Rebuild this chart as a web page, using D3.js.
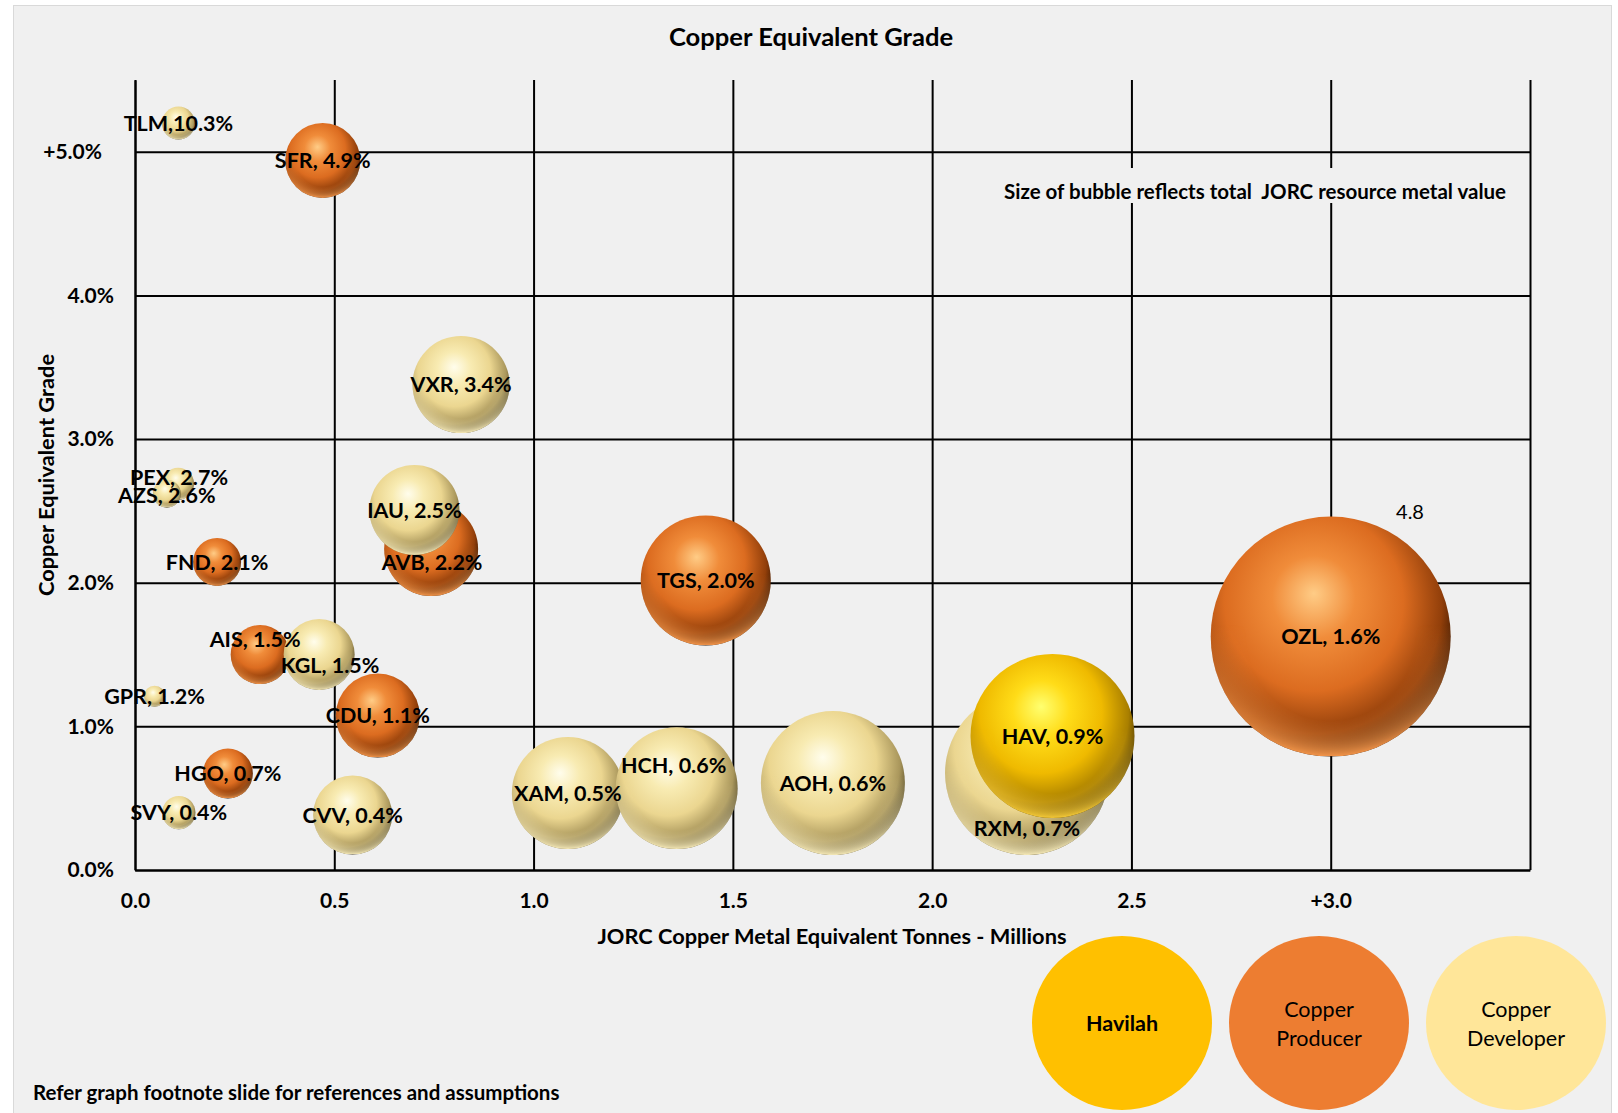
<!DOCTYPE html>
<html lang="en">
<head>
<meta charset="UTF-8">
<title>Copper Equivalent Grade</title>
<script src="https://d3js.org/d3.v7.min.js"></script>
<style>
  body { margin: 0; background: #fff; }
  svg text { font-family: Lato, "Noto Sans", sans-serif; fill: #000; }
  .tick text { font-size: 21px; font-weight: bold; }
</style>
</head>
<body>
<svg id="chart"></svg>
<script>
    // one entry per company
    var codes  = ["SFR","AVB","FND","TGS","AIS","CDU","HGO","OZL",
                  "TLM","PEX","AZS","GPR","SVY","VXR","IAU","KGL","CVV","XAM","HCH","AOH","RXM",
                  "HAV"];
    var groups = ["Producer","Producer","Producer","Producer","Producer","Producer","Producer","Producer",
                  "Developer","Developer","Developer","Developer","Developer","Developer","Developer",
                  "Developer","Developer","Developer","Developer","Developer","Developer",
                  "Havilah"];
    // JORC copper metal equivalent tonnes (millions), 3.0 = "+3.0"
    var tonnes = [0.471, 0.743, 0.206, 1.432, 0.314, 0.609, 0.233, 3.0,
                  0.109, 0.108, 0.080, 0.049, 0.110, 0.818, 0.701, 0.462, 0.546, 1.086, 1.359, 1.751, 2.238,
                  2.302];
    // plotted grade (%), TLM capped near the top
    var grades = [4.94, 2.235, 2.145, 2.016, 1.50, 1.075, 0.672, 1.625,
                  5.20, 2.69, 2.62, 1.21, 0.40, 3.38, 2.507, 1.50, 0.383, 0.536, 0.57, 0.605, 0.675,
                  0.933];
    // grade shown in the label
    var gradeLabels = [4.9, 2.2, 2.1, 2.0, 1.5, 1.1, 0.7, 1.6,
                       10.3, 2.7, 2.6, 1.2, 0.4, 3.4, 2.5, 1.5, 0.4, 0.5, 0.6, 0.6, 0.7,
                       0.9];
    // total JORC resource metal value (bubble size)
    var metalValue = [0.469, 0.736, 0.192, 1.41, 0.29, 0.588, 0.208, 4.8,
                      0.091, 0.085, 0.065, 0.037, 0.092, 0.787, 0.675, 0.42, 0.52, 1.045, 1.24, 1.728, 2.24,
                      2.24];

    var xTicks = [0, 0.5, 1, 1.5, 2, 2.5, 3, 3.5];
    var xTickLabels = ["0.0", "0.5", "1.0", "1.5", "2.0", "2.5", "+3.0", ""];
    var yTicks = [0, 1, 2, 3, 4, 5];
    var yTickLabels = ["0.0%", "1.0%", "2.0%", "3.0%", "4.0%", "+5.0%"];

    var legendKeys  = ["Havilah", "Producer", "Developer"];
    var legendLines = [["Havilah"], ["Copper", "Producer"], ["Copper", "Developer"]];

    var W = 1618, H = 1113;
    var plotL = 135, plotR = 1530, plotT = 80, plotB = 870;

    var flatColor = {Havilah: "#FFC000", Producer: "#ED7D31", Developer: "#FFE699"};
    var shade = {
        Producer:  ["#ffcc86", "#f08c3a", "#dc6c20", "#923f0a", "#2e1200", "#ff9d4e"],
        Developer: ["#fffdec", "#f8ebb2", "#ebd690", "#aa975c", "#4a4020", "#fff2bf"],
        Havilah:   ["#ffff70", "#ffdc18", "#efba00", "#a97f00", "#3e2c00", "#ffd23a"]
    };

    var svg = d3.select("#chart").attr("width", W).attr("height", H);
    var defs = svg.append("defs");

    Object.keys(shade).forEach(function(k) {
        var c = shade[k];
        var g = defs.append("radialGradient").attr("id", "grad-" + k)
            .attr("cx", 0.43).attr("cy", 0.38).attr("r", 0.62)
            .attr("fx", 0.43).attr("fy", 0.32);
        [[0, c[0]], [0.28, c[1]], [0.6, c[2]], [0.86, c[3]], [1, c[4]]].forEach(function(s) {
            g.append("stop").attr("offset", s[0]).attr("stop-color", s[1]);
        });
        var r = defs.append("linearGradient").attr("id", "rim-" + k)
            .attr("x1", 0).attr("y1", 0).attr("x2", 0).attr("y2", 1);
        r.append("stop").attr("offset", 0.45).attr("stop-color", c[5]).attr("stop-opacity", 0);
        r.append("stop").attr("offset", 1).attr("stop-color", c[5]).attr("stop-opacity", 0.95);
    });

    var ring = defs.append("radialGradient").attr("id", "ringGrad")
        .attr("cx", 0.5).attr("cy", 0.5).attr("r", 0.5);
    ring.append("stop").attr("offset", 0.7).attr("stop-color", "#000");
    ring.append("stop").attr("offset", 1).attr("stop-color", "#fff");
    defs.append("mask").attr("id", "rimMask")
        .attr("maskUnits", "objectBoundingBox").attr("maskContentUnits", "objectBoundingBox")
        .attr("x", 0).attr("y", 0).attr("width", 1).attr("height", 1)
        .append("rect").attr("width", 1).attr("height", 1).attr("fill", "url(#ringGrad)");

    // panel
    svg.append("rect").attr("x", 13.5).attr("y", 5.5).attr("width", 1598).attr("height", 1120)
        .attr("fill", "#f0f0f0").attr("stroke", "#d9d9d9");

    var x = d3.scaleLinear().domain([0, 3.5]).range([plotL, plotR]);
    var y = d3.scaleLinear().domain([0, 5.5]).range([plotB, plotT]);
    var size = d3.scaleSqrt().domain([0, 4.8]).range([0, 120]);

    var xAxis = svg.append("g").attr("transform", "translate(0," + plotB + ")")
        .call(d3.axisBottom(x).tickValues(xTicks).tickSizeInner(-(plotB - plotT)).tickSizeOuter(0)
            .tickPadding(23).tickFormat(function(d, i) { return xTickLabels[i]; }));
    var yAxis = svg.append("g").attr("transform", "translate(" + plotL + ",0)")
        .call(d3.axisLeft(y).tickValues(yTicks).tickSizeInner(-(plotR - plotL)).tickSizeOuter(0)
            .tickPadding(21).tickFormat(function(d, i) { return yTickLabels[i]; }));
    [xAxis, yAxis].forEach(function(a) {
        a.attr("font-family", null).attr("font-size", null);
        a.selectAll("line").attr("stroke", "#000").attr("stroke-width", 2);
        a.select(".domain").attr("stroke", "#000").attr("stroke-width", 2);
    });
    yAxis.selectAll(".tick text").attr("dx", function(d) { return d === 5 ? -12 : 0; });

    // note box sits over the gridlines
    svg.append("rect").attr("x", 996).attr("y", 168).attr("width", 520).attr("height", 35)
        .attr("fill", "#f0f0f0");
    svg.append("text").attr("x", 1506).attr("y", 192).attr("dy", "0.36em")
        .attr("text-anchor", "end").attr("font-size", 20.5).attr("font-weight", "bold")
        .attr("xml:space", "preserve")
        .text("Size of bubble reflects total  JORC resource metal value");

    var rows = codes.map(function(c, i) {
        return {code: c, group: groups[i], t: tonnes[i], g: grades[i], lab: gradeLabels[i], v: metalValue[i]};
    });

    // nudges for labels that were moved off centre in the original
    var nudge = {AVB: [1, 13], AIS: [-5, -15], KGL: [11, 11], HCH: [-3, -23], RXM: [0, 55], PEX: [1, -6], AZS: [0, 2]};

    var bub = svg.append("g").selectAll("g").data(rows).enter().append("g")
        .attr("transform", function(d) { return "translate(" + x(d.t) + "," + y(d.g) + ")"; });
    bub.append("circle").attr("r", function(d) { return size(d.v); })
        .attr("fill", function(d) { return "url(#grad-" + d.group + ")"; });
    bub.append("circle").attr("r", function(d) { return size(d.v); })
        .attr("fill", function(d) { return "url(#rim-" + d.group + ")"; })
        .attr("mask", "url(#rimMask)");

    svg.append("g").selectAll("text").data(rows).enter().append("text")
        .attr("x", function(d) { return x(d.t) + (nudge[d.code] ? nudge[d.code][0] : 0); })
        .attr("y", function(d) { return y(d.g) + (nudge[d.code] ? nudge[d.code][1] : 0); })
        .attr("dy", "0.36em").attr("text-anchor", "middle")
        .attr("font-size", 21.5).attr("font-weight", "bold")
        .text(function(d) {
            return d.code + (d.code === "TLM" ? "," : ", ") + d.lab.toFixed(1) + "%";
        });

    // bubble size note for the largest one
    svg.append("text").attr("x", 1410).attr("y", 512).attr("dy", "0.36em")
        .attr("text-anchor", "middle").attr("font-size", 20).text("4.8");

    svg.append("text").attr("x", 811).attr("y", 37).attr("dy", "0.36em")
        .attr("text-anchor", "middle").attr("font-size", 25.6).attr("font-weight", "bold")
        .text("Copper Equivalent Grade");
    svg.append("text").attr("x", 832).attr("y", 936).attr("dy", "0.36em")
        .attr("text-anchor", "middle").attr("font-size", 21.8).attr("font-weight", "bold")
        .text("JORC Copper Metal Equivalent Tonnes - Millions");
    svg.append("text").attr("transform", "translate(46,475) rotate(-90)").attr("dy", "0.36em")
        .attr("text-anchor", "middle").attr("font-size", 21.8).attr("font-weight", "bold")
        .text("Copper Equivalent Grade");
    svg.append("text").attr("x", 33).attr("y", 1093).attr("dy", "0.36em")
        .attr("font-size", 20.5).attr("font-weight", "bold")
        .text("Refer graph footnote slide for references and assumptions");

    // legend
    var lx = d3.scalePoint().domain(legendKeys).range([1122, 1516]);
    var leg = svg.append("g").selectAll("g").data(legendKeys).enter().append("g")
        .attr("transform", function(d) { return "translate(" + lx(d) + ",1023)"; });
    leg.append("ellipse").attr("rx", 90).attr("ry", 87)
        .attr("fill", function(d) { return flatColor[d]; });
    leg.append("text").attr("text-anchor", "middle").attr("font-size", 21.5)
        .attr("font-weight", function(d) { return d === "Havilah" ? "bold" : "normal"; })
        .attr("fill", "#1a1a1a")
        .each(function(d, i) {
            var lines = legendLines[i];
            var t = d3.select(this);
            lines.forEach(function(s, j) {
                t.append("tspan").attr("x", 0)
                    .attr("y", (j - (lines.length - 1) / 2) * 29 + 0.5)
                    .attr("dy", "0.36em").text(s);
            });
        });
</script>
</body>
</html>
